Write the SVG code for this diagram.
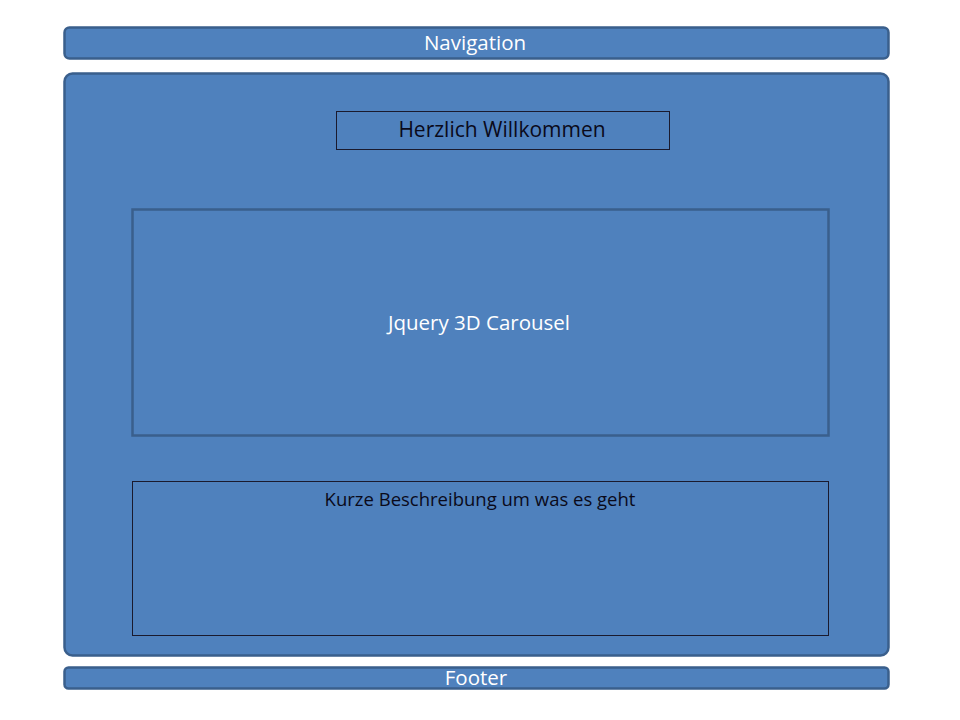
<svg xmlns="http://www.w3.org/2000/svg" width="960" height="720" viewBox="0 0 960 720">
<style>
.bar{fill:#4f81bd;stroke:#3a5f8c;stroke-width:2.5}
.inner{fill:none;stroke:#1a1a2e;stroke-width:1}
.car{fill:none;stroke:#3a5f8c;stroke-width:2.5}
text{font-family:"Open Sans","Noto Sans",sans-serif;text-anchor:middle}
.w{fill:#ffffff;font-size:20.5px}
.k{fill:#0a0a1a}
</style>
<rect width="960" height="720" fill="#ffffff"/>
<g id="navigation">
<rect class="bar" x="64.5" y="27.5" width="824" height="31" rx="5"/>
<text class="w" x="475" y="50">Navigation</text>
</g>
<g id="main">
<rect class="bar" x="64.5" y="73.5" width="824" height="582" rx="8"/>
</g>
<g id="welcome">
<rect class="inner" x="336.5" y="111.5" width="333" height="38"/>
<text class="k" x="502" y="137" font-size="21">Herzlich Willkommen</text>
</g>
<g id="carousel">
<rect class="car" x="132.5" y="209.5" width="696" height="226"/>
<text class="w" x="479" y="330">Jquery 3D Carousel</text>
</g>
<g id="description">
<rect class="inner" x="132.5" y="481.5" width="696" height="154"/>
<text class="k" x="480" y="506" font-size="18.5">Kurze Beschreibung  um was es geht</text>
</g>
<g id="footer">
<rect class="bar" x="64.5" y="667.5" width="824" height="21" rx="4"/>
<text class="w" x="476" y="685">Footer</text>
</g>
<g id="connectors"></g>
</svg>
